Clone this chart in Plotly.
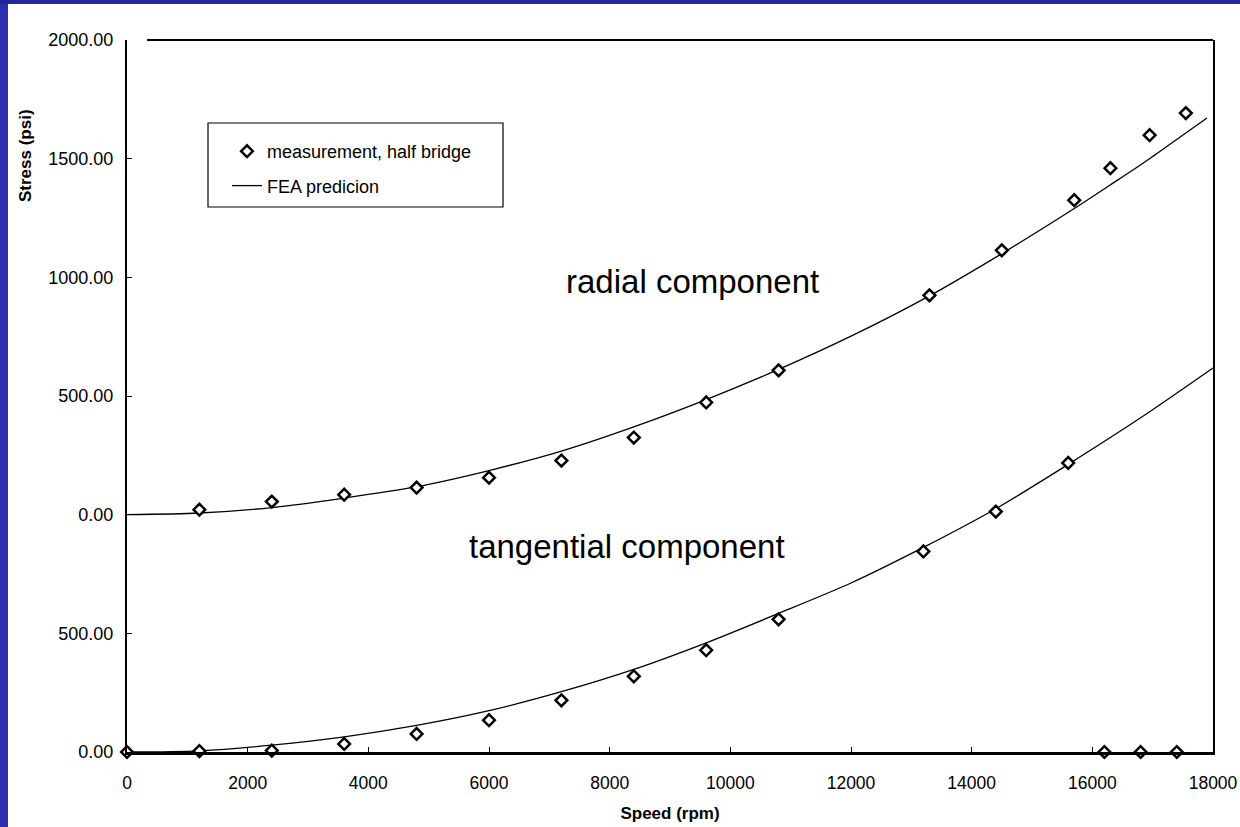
import plotly.graph_objects as go

# ---- measured data (speed in rpm, stress in psi) ----
radial_speed = [1200, 2400, 3600, 4800, 6000, 7200, 8400, 9600, 10800,
                13300, 14500, 15700, 16300, 16950, 17550]
radial_stress = [21, 55, 84, 114, 156, 228, 325, 473, 608,
                 924, 1114, 1325, 1460, 1599, 1692]

tangential_speed = [0, 1200, 2400, 3600, 4800, 6000, 7200, 8400, 9600, 10800,
                    13200, 14400, 15600, 16200, 16800, 17400]
tangential_stress = [0, 4, 6, 34, 76, 134, 218, 319, 429, 559,
                     845, 1013, 1218, 0, 0, 0]

# ---- FEA prediction curves ----
fea_radial_speed = [0, 1200, 2400, 3600, 4800, 6000, 7200, 8400, 9600, 10800,
                    12000, 13300, 14500, 15700, 16300, 16950, 17550, 17900]
fea_radial_stress = [0, 7, 30, 70, 118, 186, 268, 370, 485, 612,
                     752, 922, 1100, 1290, 1390, 1500, 1608, 1671]

fea_tan_speed = [0, 1200, 2400, 3600, 4800, 6000, 7200, 8400, 9600, 10800,
                 12000, 13200, 14400, 15600, 16800, 18000]
fea_tan_stress = [0, 5, 29, 64, 112, 174, 254, 348, 460, 584,
                  712, 862, 1025, 1212, 1408, 1618]

x_ticks = list(range(0, 18001, 2000))
radial_ticks = [0, 500, 1000, 1500, 2000]
tangential_ticks = [0, 500]

# ---- page geometry ----
W, H = 1240, 827
L, R, T, B = 127, 27, 40, 75
PW, PH = W - L - R, H - T - B


def px_x(p):
    return (p - L) / PW


def px_y(p):
    return (H - B - p) / PH


FONT = "Liberation Sans, Arial, sans-serif"
BLUE = "#2d2db2"

fig = go.Figure()

line_style = dict(color="black", width=1.3, shape="spline", smoothing=0.8)
marker_style = dict(symbol="diamond", size=9, color="white",
                    line=dict(color="black", width=2.5))

fig.add_trace(go.Scatter(x=fea_radial_speed, y=fea_radial_stress, mode="lines",
                         line=line_style, yaxis="y2", showlegend=False))
fig.add_trace(go.Scatter(x=fea_tan_speed, y=fea_tan_stress, mode="lines",
                         line=line_style, yaxis="y", showlegend=False))
fig.add_trace(go.Scatter(x=radial_speed, y=radial_stress, mode="markers",
                         marker=marker_style, yaxis="y2", cliponaxis=False,
                         name="measurement, half bridge", legendgroup="m"))
fig.add_trace(go.Scatter(x=tangential_speed, y=tangential_stress, mode="markers",
                         marker=marker_style, yaxis="y", cliponaxis=False,
                         showlegend=False, legendgroup="m"))
fig.add_trace(go.Scatter(x=[None], y=[None], mode="lines",
                         line=dict(color="black", width=1.3),
                         name="FEA predicion", legendgroup="f"))

tick_font = dict(family=FONT, size=18, color="black")

fig.update_layout(
    width=W, height=H,
    margin=dict(l=L, r=R, t=T, b=B, pad=0, autoexpand=False),
    paper_bgcolor="white", plot_bgcolor="white",
    font=dict(family=FONT, color="black"),
    xaxis=dict(range=[0, 18000], tickvals=x_ticks, tickformat="d",
               showgrid=False, zeroline=False, automargin=False,
               showline=True, linecolor="black", linewidth=3,
               ticks="inside", ticklen=5, tickcolor="black", tickwidth=1,
               tickfont=dict(family=FONT, size=17.5, color="black"),
               ticklabelstandoff=13,
               title=dict(text="<b>Speed (rpm)</b>", standoff=16,
                          font=dict(family=FONT, size=17, color="black"))),
    yaxis=dict(range=[0, 3000], tickvals=tangential_ticks, tickformat=".2f",
               showgrid=False, zeroline=False, showline=True, mirror=True,
               automargin=False,
               linecolor="black", linewidth=2,
               ticks="inside", ticklen=5, tickcolor="black",
               tickfont=tick_font, ticklabelstandoff=8),
    yaxis2=dict(range=[-1000, 2000], tickvals=radial_ticks, tickformat=".2f",
                overlaying="y", side="left", anchor="x", automargin=False,
                showgrid=False, zeroline=False, showline=True,
                linecolor="black", linewidth=2,
                ticks="inside", ticklen=5, tickcolor="black",
                tickfont=tick_font, ticklabelstandoff=8),
    legend=dict(x=px_x(227), y=px_y(133), xanchor="left", yanchor="top",
                bgcolor="rgba(0,0,0,0)", borderwidth=0,
                traceorder="grouped", tracegroupgap=8,
                font=dict(family=FONT, size=18, color="black")),
    showlegend=True,
)

shapes = [
    # legend frame
    dict(type="rect", xref="paper", yref="paper",
         x0=px_x(208), x1=px_x(503), y0=px_y(207), y1=px_y(123),
         line=dict(color="black", width=1.2), fillcolor="rgba(0,0,0,0)"),
    # top frame line
    dict(type="line", xref="paper", yref="paper",
         x0=px_x(147), x1=1, y0=1, y1=1, line=dict(color="black", width=2)),
    # blue page border, left and top
    dict(type="rect", xref="paper", yref="paper",
         x0=px_x(0), x1=px_x(8), y0=px_y(H), y1=px_y(0),
         fillcolor=BLUE, line=dict(width=0), layer="above"),
    dict(type="rect", xref="paper", yref="paper",
         x0=px_x(0), x1=px_x(W), y0=px_y(4), y1=px_y(0),
         fillcolor="#26269c", line=dict(width=0), layer="above"),
]
fig.update_layout(shapes=shapes)

annotations = [
    dict(text="radial component", x=px_x(692), y=px_y(281), xref="paper", yref="paper",
         showarrow=False, xanchor="center", yanchor="middle",
         font=dict(family=FONT, size=33, color="black")),
    dict(text="tangential component", x=px_x(627), y=px_y(546), xref="paper", yref="paper",
         showarrow=False, xanchor="center", yanchor="middle",
         font=dict(family=FONT, size=33, color="black")),
    dict(text="<b>Stress (psi)</b>", x=px_x(26), y=px_y(156), xref="paper", yref="paper",
         showarrow=False, textangle=-90, xanchor="center", yanchor="middle",
         font=dict(family=FONT, size=17, color="black")),
]
fig.update_layout(annotations=annotations)

fig.write_html("out.html")
